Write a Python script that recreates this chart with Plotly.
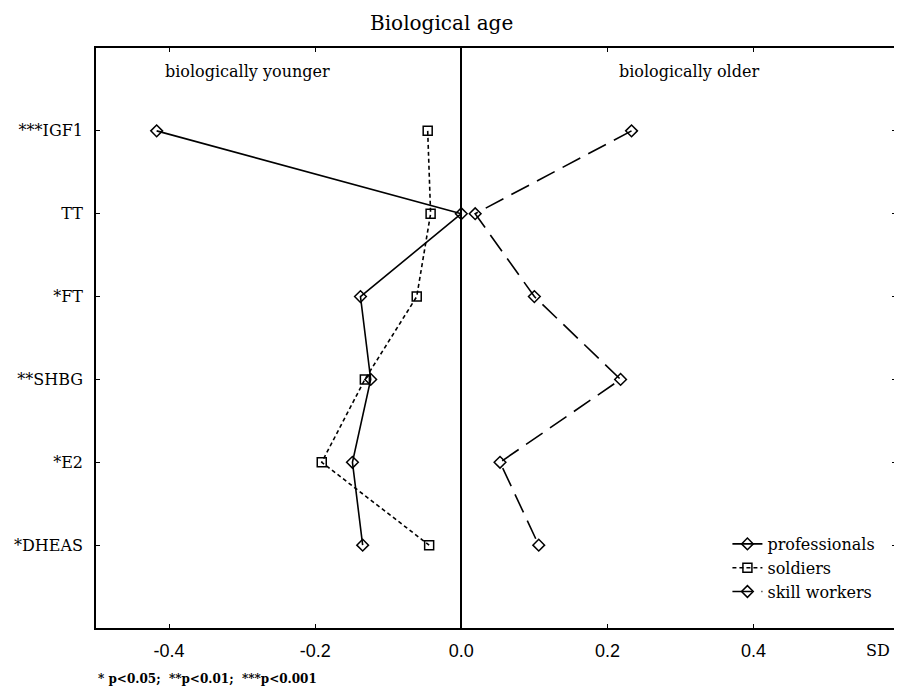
import plotly.graph_objects as go

categories = ["***IGF1", "TT", "*FT", "**SHBG", "*E2", "*DHEAS"]
professionals = [-0.417, 0.0, -0.138, -0.124, -0.149, -0.135]
soldiers = [-0.046, -0.042, -0.061, -0.132, -0.191, -0.044]
skill_workers = [0.233, 0.019, 0.100, 0.218, 0.053, 0.106]

x_tickvals = [-0.4, -0.2, 0.0, 0.2, 0.4]
x_ticktext = ["-0.4", "-0.2", "0.0", "0.2", "0.4"]

SERIF = "DejaVu Serif, serif"
SANS = "Liberation Sans, Arial, sans-serif"

fig = go.Figure()
fig.add_trace(go.Scatter(
    x=professionals, y=categories, name="professionals", mode="lines+markers",
    line=dict(color="black", width=1.6, dash="solid"),
    marker=dict(symbol="diamond-open", size=9, color="black", line=dict(width=1.5)),
))
fig.add_trace(go.Scatter(
    x=soldiers, y=categories, name="soldiers", mode="lines+markers",
    line=dict(color="black", width=1.6, dash="4px,3px"),
    marker=dict(symbol="square-open", size=9, color="black", line=dict(width=1.5)),
))
fig.add_trace(go.Scatter(
    x=skill_workers, y=categories, name="skill workers", mode="lines+markers",
    line=dict(color="black", width=1.6, dash="20px,9px"),
    marker=dict(symbol="diamond-open", size=9, color="black", line=dict(width=1.5)),
))

# page has an 8px body margin: figure is shifted by 8px, so margins compensate
fig.update_layout(
    width=894, height=680,
    margin=dict(l=88, r=4, t=40, b=60),
    paper_bgcolor="white", plot_bgcolor="white",
    showlegend=True,
    legend=dict(
        x=(729 - 96) / 802, y=(628 - 527) / 580, xanchor="left", yanchor="top",
        bgcolor="rgba(0,0,0,0)", borderwidth=0,
        font=dict(family=SERIF, size=16, color="black"),
        tracegroupgap=0, itemwidth=30,
    ),
    xaxis=dict(
        range=[-0.5, 0.595], tickvals=x_tickvals, ticktext=x_ticktext,
        showgrid=False, zeroline=True, zerolinecolor="black", zerolinewidth=1.6,
        showline=True, linecolor="black", linewidth=1.6, mirror="ticks",
        ticks="inside", ticklen=4, tickcolor="black", tickwidth=1.3,
        tickfont=dict(family=SANS, size=18, color="black"),
        ticklabelstandoff=6,
    ),
    yaxis=dict(
        type="category", categoryorder="array", categoryarray=categories,
        range=[6, -1],
        showgrid=False, zeroline=False,
        showline=True, linecolor="black", linewidth=1.6, mirror="ticks",
        ticks="inside", ticklen=4, tickcolor="black", tickwidth=1.3,
        tickfont=dict(family=SERIF, size=16, color="black"),
        ticklabelstandoff=8,
    ),
)

annotations = [
    dict(text="Biological age", x=(442 - 96) / 802, y=(628 - 23) / 580,
         font=dict(family=SERIF, size=20, color="black")),
    dict(text="biologically younger", x=(163 - 96) / 802, y=(628 - 72) / 580,
         xanchor="left", font=dict(family=SERIF, size=16, color="black")),
    dict(text="biologically older", x=(618 - 96) / 802, y=(628 - 72) / 580,
         xanchor="left", font=dict(family=SERIF, size=16, color="black")),
    dict(text="SD", x=(880 - 96) / 802, y=(628 - 650) / 580,
         font=dict(family=SERIF, size=16, color="black")),
    dict(text="<b>* p&lt;0.05;&nbsp; **p&lt;0.01;&nbsp; ***p&lt;0.001</b>", x=0,
         xanchor="left", y=(628 - 679) / 580,
         font=dict(family=SERIF, size=12, color="black")),
]
for a in annotations:
    a.setdefault("xanchor", "center")
    fig.add_annotation(xref="paper", yref="paper", yanchor="middle",
                       showarrow=False, **a)

fig.write_html("out.html")
